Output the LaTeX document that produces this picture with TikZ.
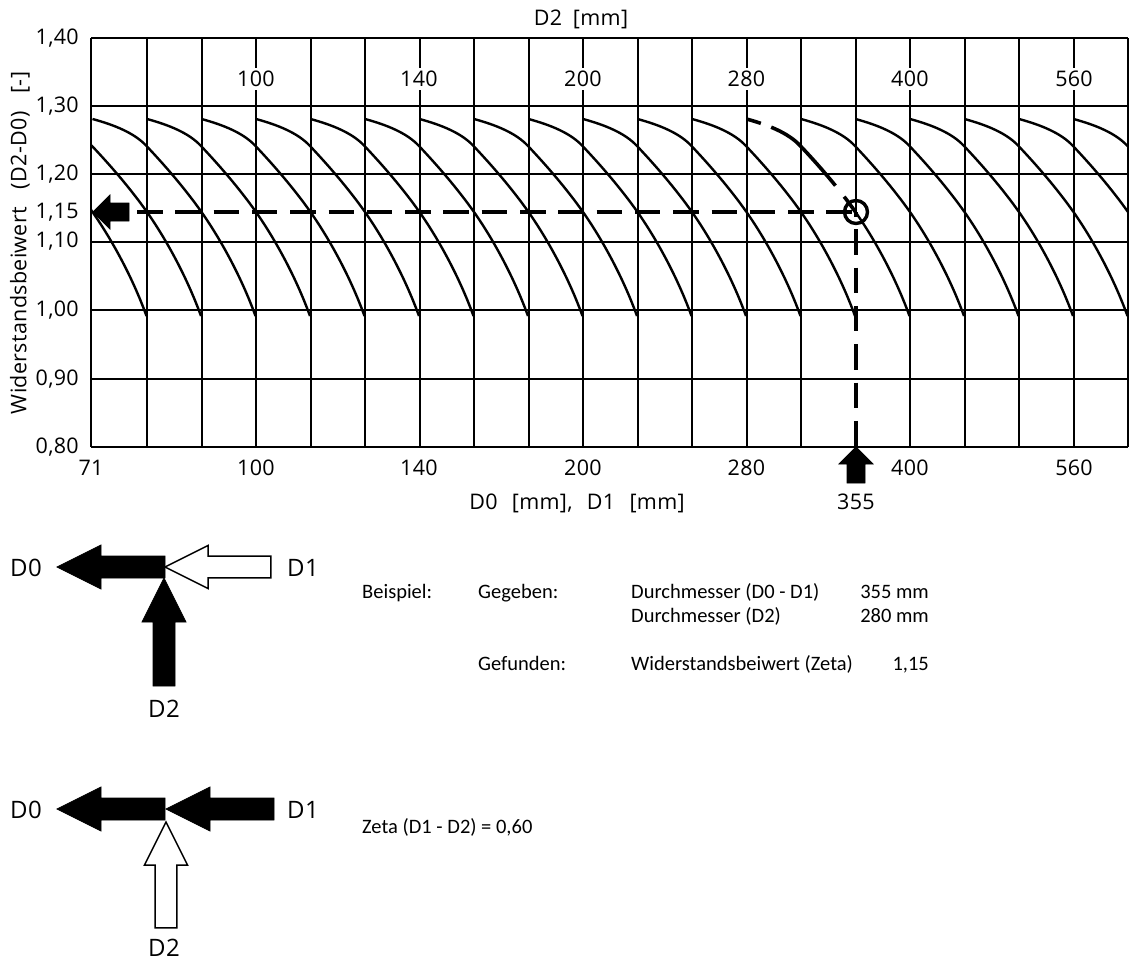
\documentclass[tikz,border=0pt]{standalone}
\usepackage{fontspec}
\setmainfont[LetterSpace=1.5]{Open Sans}
\newfontfamily\legfont{Carlito}
\usepackage{tikz}
\usetikzlibrary{arrows,calc,positioning}
\newcommand{\kurvea}{(0,119) .. controls (22,125) and (42,133) .. (54,146)
    .. controls (72,165) and (92,188) .. (109,212)}
\newcommand{\kurveb}{(109,212) .. controls (130,242) and (150,280) .. (163,316)}
\tikzset{
    raster/.style={
           line width=1.9pt},
    kurve/.style={
           line width=2.4pt},
    fuehrung/.style={
           line width=3.6pt,
           dash pattern=on 25.5pt off 12.8pt},
    achse/.style={
           font=\fontsize{21.5}{24}\selectfont,
           inner sep=1pt},
    wert/.style={
           achse,
           fill=white,
           inner xsep=2pt,
           inner ysep=3pt},
    marke/.style={
           font=\fontsize{24}{28}\selectfont,
           inner sep=0pt},
    leg/.style={
           font=\legfont\fontsize{20.5}{22}\selectfont,
           inner sep=0pt,
           anchor=base west},
    legr/.style={
           leg,
           anchor=base east},
    voll/.style={
           fill=black,
           draw=black,
           line width=0.8pt},
    hohl/.style={
           fill=white,
           draw=black,
           line width=1.5pt,
           scale=0.98},
    pics/pfeil/.style={
           code={\path[pic actions] (0,0) -- (44,-22) -- (44,-11) -- (108,-11)
                 -- (108,11) -- (44,11) -- (44,22) -- cycle;}},
    pics/kleinpfeil/.style={
           code={\path[pic actions] (0,0) -- (17,-17) -- (17,-9) -- (36,-9)
                 -- (36,9) -- (17,9) -- (17,17) -- cycle;}}
}

\begin{document}
\begin{tikzpicture}[x=1pt, y=-1pt]
        \useasboundingbox (0,0) rectangle (1140,964);

        % ablesung
        \coordinate (punkt) at (856,212);
        \coordinate (links) at (137,212);
        \coordinate (unten) at (856,447);

        % raster
        \foreach \y in {38,106,174,242,310,379,447}
            \draw[raster] (91,\y) -- (1128,\y);
        \draw[raster] (91,38) -- (91,447);
        \foreach \k in {0,...,12,14,15,16,17,18}
            \draw[raster] ({round(147+54.5*\k)},38) -- ({round(147+54.5*\k)},447);
        \draw[raster] (856,38) -- (punkt);

        % kurven
        \begin{scope}
            \clip (91,38) rectangle (1128,447);
            \foreach \k in {-3,...,17} {
                \begin{scope}[shift={({147+54.5*\k},0)}]
                    \ifnum\k=11\relax
                        \draw[kurve, line width=3.6pt, dash pattern=on 15pt off 11pt on 88pt off 14pt on 50pt off 12pt] \kurvea;
                    \else
                        \draw[kurve] \kurvea;
                    \fi
                    \draw[kurve] \kurveb;
                \end{scope}
            }
        \end{scope}

        \draw[fuehrung] (links) -- (punkt);
        \draw[fuehrung, dash phase=21pt] (punkt) -- (unten);
        \draw[line width=3.4pt] (punkt) circle (11.5);
        \pic[voll] at (93,212) {kleinpfeil};
        \pic[voll, rotate=-90] at (856,447) {kleinpfeil};

        % beschriftung
        \node[achse] (d2top) at (581,19) {D2\,\,\,[mm]};
        \foreach \t/\y in {1{,}40/38,1{,}30/106,1{,}20/174,1{,}15/212,1{,}10/241,1{,}00/310,0{,}90/379,0{,}80/447}
            \node[achse, anchor=east] at (80,\y) {\t};
        \foreach \t/\x in {100/256,140/419,200/583,280/746.5,400/910,560/1074}
            \node[wert] at (\x,79) {\t};
        \foreach \t/\x in {71/91,100/256,140/419,200/583,280/746.5,400/910,560/1074}
            \node[achse] at (\x,468) {\t};
        \node[achse] (d355) at (856,502) {355};
        \node[achse] (dquer) at (577,503) {D0\,\,\,\,[mm],\,\,\,\,D1\,\,\,\,[mm]};
        \node[achse, rotate=90] (zeta) at (20,243) {Widerstandsbeiwert\,\,\,\,\,(D2-D0)\,\,\,\,\,[-]};

        % oben
        \pic[voll] at (57,567) {pfeil};
        \pic[hohl] at (165,567) {pfeil};
        \pic[voll, rotate=-90] at (164,578) {pfeil};
        \node[marke] (a0) at (26,568) {D0};
        \node[marke] (a1) at (303,568) {D1};
        \node[marke] (a2) at (164,709) {D2};

        % unten
        \pic[voll] at (57,809) {pfeil};
        \pic[voll] at (166,809) {pfeil};
        \pic[hohl, rotate=-90] at (166,822) {pfeil};
        \node[marke] (b0) at (26,810) {D0};
        \node[marke] (b1) at (303,810) {D1};
        \node[marke] (b2) at (164,948) {D2};

        % beispiel
        \node[leg] (bsp) at (362,598) {Beispiel:};
        \node[leg] (geg) at (478,598) {Gegeben:};
        \node[leg] (dm1) at (631,598) {Durchmesser (D0 - D1)};
        \node[legr] (w1) at (929,598) {355 mm};
        \node[leg] (dm2) at (631,622) {Durchmesser (D2)};
        \node[legr] (w2) at (929,622) {280 mm};
        \node[leg] (gef) at (478,670) {Gefunden:};
        \node[leg] (wb) at (631,670) {Widerstandsbeiwert (Zeta)};
        \node[legr] (w3) at (929,670) {1,15};
        \node[leg] (z12) at (362,833) {Zeta (D1 - D2) = 0,60};
\end{tikzpicture}
\end{document}
